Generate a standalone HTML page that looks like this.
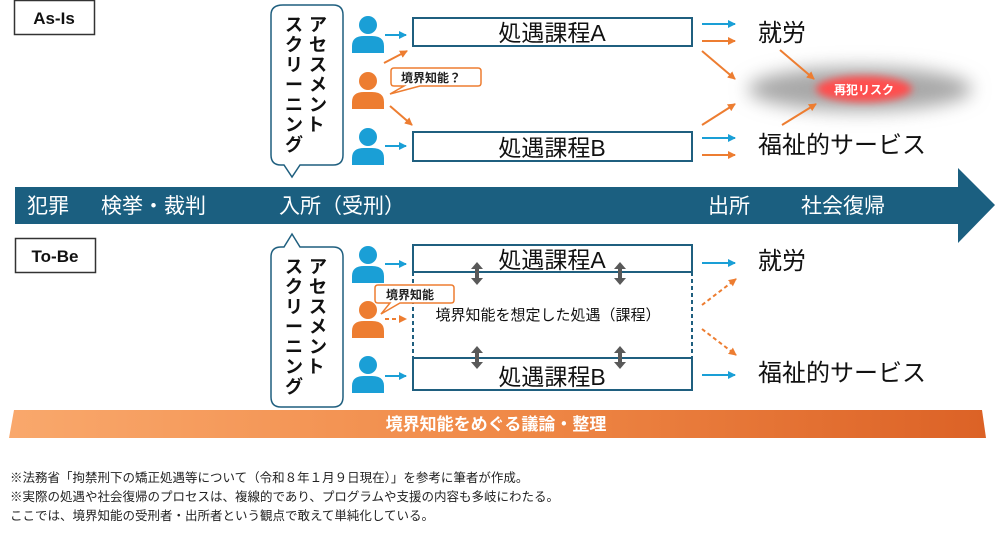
<!DOCTYPE html>
<html><head><meta charset="utf-8"><style>
html,body{margin:0;padding:0;background:#fff;width:1000px;height:533px;overflow:hidden}
svg{display:block}
text{font-family:"Liberation Sans","Noto Sans CJK JP",sans-serif}
</style></head><body>
<svg width="1000" height="533" viewBox="0 0 1000 533" xmlns="http://www.w3.org/2000/svg">
<defs>
<marker id="ab" markerWidth="8" markerHeight="8" refX="7" refY="4" orient="auto" markerUnits="userSpaceOnUse"><path d="M0,0 L8,4 L0,8 z" fill="#1a9fd6"/></marker>
<marker id="ao" markerWidth="8" markerHeight="8" refX="7" refY="4" orient="auto" markerUnits="userSpaceOnUse"><path d="M0,0 L8,4 L0,8 z" fill="#ed7d31"/></marker>
<filter id="blur1" x="-50%" y="-100%" width="200%" height="300%"><feGaussianBlur stdDeviation="9"/></filter>
<filter id="blur2" x="-50%" y="-100%" width="200%" height="300%"><feGaussianBlur stdDeviation="4"/></filter>
<linearGradient id="og" x1="0" x2="1"><stop offset="0" stop-color="#f9a86c"/><stop offset="0.5" stop-color="#f08a48"/><stop offset="1" stop-color="#dc6226"/></linearGradient>
<g id="pb"><circle cx="16" cy="9" r="9" fill="#1a9fd6"/><path d="M0,37 L0,30 Q0,20 12,20 L20,20 Q32,20 32,30 L32,37 z" fill="#1a9fd6"/></g>
<g id="po"><circle cx="16" cy="9" r="9" fill="#ed7d31"/><path d="M0,37 L0,30 Q0,20 12,20 L20,20 Q32,20 32,30 L32,37 z" fill="#ed7d31"/></g>
<g id="dbl" fill="#595959"><path d="M0,0 L6,7 L2,7 L2,16 L6,16 L0,23 L-6,16 L-2,16 L-2,7 L-6,7 z"/></g>
</defs>

<rect x="14.5" y="0.5" width="80" height="34" fill="#fff" stroke="#333" stroke-width="1.5"/>
<text x="54" y="24" font-size="17" font-weight="bold" text-anchor="middle" fill="#111">As-Is</text>

<path d="M283,5 L333,5 Q343,5 343,15 L343,155 Q343,165 333,165 L300,165 L292,177 L284,165 L281,165 Q271,165 271,155 L271,15 Q271,5 283,5 z" fill="#fff" stroke="#1f5f7f" stroke-width="1.5"/>
<text font-size="18" font-weight="bold" fill="#111" text-anchor="middle">
<tspan x="318" y="31">ア</tspan><tspan x="318" y="51">セ</tspan><tspan x="318" y="71">ス</tspan><tspan x="318" y="91">メ</tspan><tspan x="318" y="111">ン</tspan><tspan x="318" y="131">ト</tspan>
<tspan x="294" y="31">ス</tspan><tspan x="294" y="51">ク</tspan><tspan x="294" y="71">リ</tspan><tspan x="294" y="91">ー</tspan><tspan x="294" y="111">ニ</tspan><tspan x="294" y="131">ン</tspan><tspan x="294" y="151">グ</tspan>
</text>

<use href="#pb" x="352" y="16"/>
<use href="#po" x="352" y="72"/>
<use href="#pb" x="352" y="128"/>
<line x1="385" y1="35" x2="406" y2="35" stroke="#1a9fd6" stroke-width="2" marker-end="url(#ab)"/>
<line x1="385" y1="146" x2="406" y2="146" stroke="#1a9fd6" stroke-width="2" marker-end="url(#ab)"/>
<line x1="384" y1="63" x2="407" y2="51" stroke="#ed7d31" stroke-width="2" marker-end="url(#ao)"/>
<line x1="390" y1="106" x2="412" y2="125" stroke="#ed7d31" stroke-width="2" marker-end="url(#ao)"/>
<path d="M394,68 L478,68 Q481,68 481,71 L481,83 Q481,86 478,86 L420,86 L390,94 L404,86 L394,86 Q391,86 391,83 L391,71 Q391,68 394,68 z" fill="#fff" stroke="#ed7d31" stroke-width="1.5"/>
<text x="401" y="82" font-size="12" font-weight="bold" fill="#222">境界知能？</text>

<rect x="413" y="18" width="279" height="28" fill="#fff" stroke="#1f5f7f" stroke-width="2"/>
<text x="552" y="41" font-size="23" text-anchor="middle" fill="#111">処遇課程A</text>
<rect x="413" y="132" width="279" height="29" fill="#fff" stroke="#1f5f7f" stroke-width="2"/>
<text x="552" y="156" font-size="23" text-anchor="middle" fill="#111">処遇課程B</text>

<line x1="702" y1="24" x2="735" y2="24" stroke="#1a9fd6" stroke-width="2" marker-end="url(#ab)"/>
<line x1="702" y1="41" x2="735" y2="41" stroke="#ed7d31" stroke-width="2" marker-end="url(#ao)"/>
<line x1="702" y1="138" x2="735" y2="138" stroke="#1a9fd6" stroke-width="2" marker-end="url(#ab)"/>
<line x1="702" y1="155" x2="735" y2="155" stroke="#ed7d31" stroke-width="2" marker-end="url(#ao)"/>
<line x1="702" y1="51" x2="735" y2="79" stroke="#ed7d31" stroke-width="2" marker-end="url(#ao)"/>
<line x1="702" y1="125" x2="735" y2="104" stroke="#ed7d31" stroke-width="2" marker-end="url(#ao)"/>

<ellipse cx="860" cy="89" rx="112" ry="22" fill="#a8a8a8" filter="url(#blur1)"/>
<ellipse cx="864" cy="89" rx="48" ry="13" fill="#ff4d4d" filter="url(#blur2)"/>
<text x="864" y="94" font-size="12" font-weight="bold" fill="#fff" text-anchor="middle">再犯リスク</text>
<line x1="780" y1="50" x2="814" y2="79" stroke="#ed7d31" stroke-width="2" marker-end="url(#ao)"/>
<line x1="782" y1="125" x2="816" y2="104" stroke="#ed7d31" stroke-width="2" marker-end="url(#ao)"/>

<text x="758" y="41" font-size="24" fill="#111">就労</text>
<text x="758" y="153" font-size="24" fill="#111">福祉的サービス</text>

<path d="M15,187 L958,187 L958,168 L995,205 L958,243 L958,224 L15,224 z" fill="#1b5f80"/>
<text font-size="21" fill="#fff" y="213">
<tspan x="27">犯罪</tspan><tspan x="101">検挙・裁判</tspan><tspan x="279">入所（受刑）</tspan><tspan x="708">出所</tspan><tspan x="801">社会復帰</tspan>
</text>

<rect x="15.5" y="238.5" width="80" height="34" fill="#fff" stroke="#333" stroke-width="1.5"/>
<text x="55" y="262" font-size="17" font-weight="bold" text-anchor="middle" fill="#111">To-Be</text>

<path d="M281,247 L284,247 L292,234 L300,247 L333,247 Q343,247 343,257 L343,397 Q343,407 333,407 L281,407 Q271,407 271,397 L271,257 Q271,247 281,247 z" fill="#fff" stroke="#1f5f7f" stroke-width="1.5"/>
<text font-size="18" font-weight="bold" fill="#111" text-anchor="middle">
<tspan x="318" y="273">ア</tspan><tspan x="318" y="293">セ</tspan><tspan x="318" y="313">ス</tspan><tspan x="318" y="333">メ</tspan><tspan x="318" y="353">ン</tspan><tspan x="318" y="373">ト</tspan>
<tspan x="294" y="273">ス</tspan><tspan x="294" y="293">ク</tspan><tspan x="294" y="313">リ</tspan><tspan x="294" y="333">ー</tspan><tspan x="294" y="353">ニ</tspan><tspan x="294" y="373">ン</tspan><tspan x="294" y="393">グ</tspan>
</text>

<rect x="413" y="245" width="279" height="145" fill="#fff" stroke="none"/>
<line x1="413" y1="272" x2="413" y2="358" stroke="#1f5f7f" stroke-width="2" stroke-dasharray="4,3"/>
<line x1="692" y1="272" x2="692" y2="358" stroke="#1f5f7f" stroke-width="2" stroke-dasharray="4,3"/>
<rect x="413" y="245" width="279" height="27" fill="none" stroke="#1f5f7f" stroke-width="2"/>
<rect x="413" y="358" width="279" height="32" fill="none" stroke="#1f5f7f" stroke-width="2"/>
<text x="552" y="268" font-size="23" text-anchor="middle" fill="#111">処遇課程A</text>
<text x="552" y="385" font-size="23" text-anchor="middle" fill="#111">処遇課程B</text>
<text x="548" y="320" font-size="15" text-anchor="middle" fill="#111">境界知能を想定した処遇（課程）</text>
<use href="#dbl" x="477" y="262"/>
<use href="#dbl" x="620" y="262"/>
<use href="#dbl" x="477" y="346"/>
<use href="#dbl" x="620" y="346"/>

<use href="#pb" x="352" y="246"/>
<use href="#po" x="352" y="301"/>
<use href="#pb" x="352" y="356"/>
<line x1="385" y1="264" x2="406" y2="264" stroke="#1a9fd6" stroke-width="2" marker-end="url(#ab)"/>
<line x1="385" y1="376" x2="406" y2="376" stroke="#1a9fd6" stroke-width="2" marker-end="url(#ab)"/>
<line x1="385" y1="319" x2="406" y2="319" stroke="#ed7d31" stroke-width="2" stroke-dasharray="4,3" marker-end="url(#ao)"/>
<path d="M378,285 L451,285 Q454,285 454,288 L454,300 Q454,303 451,303 L400,303 L381,314 L390,303 L378,303 Q375,303 375,300 L375,288 Q375,285 378,285 z" fill="#fff" stroke="#ed7d31" stroke-width="1.5"/>
<text x="386" y="299" font-size="12" font-weight="bold" fill="#222">境界知能</text>

<line x1="702" y1="263" x2="735" y2="263" stroke="#1a9fd6" stroke-width="2" marker-end="url(#ab)"/>
<line x1="702" y1="375" x2="735" y2="375" stroke="#1a9fd6" stroke-width="2" marker-end="url(#ab)"/>
<line x1="702" y1="305" x2="736" y2="279" stroke="#ed7d31" stroke-width="2" stroke-dasharray="4,3" marker-end="url(#ao)"/>
<line x1="702" y1="329" x2="736" y2="355" stroke="#ed7d31" stroke-width="2" stroke-dasharray="4,3" marker-end="url(#ao)"/>
<text x="758" y="269" font-size="24" fill="#111">就労</text>
<text x="758" y="381" font-size="24" fill="#111">福祉的サービス</text>

<path d="M14,410 L982,410 L986,438 L9,438 z" fill="url(#og)"/>
<text x="496" y="430" font-size="17" font-weight="bold" fill="#fff" text-anchor="middle">境界知能をめぐる議論・整理</text>

<text font-size="12.5" fill="#222">
<tspan x="10" y="482">※法務省「拘禁刑下の矯正処遇等について（令和８年１月９日現在）」を参考に筆者が作成。</tspan>
<tspan x="10" y="501">※実際の処遇や社会復帰のプロセスは、複線的であり、プログラムや支援の内容も多岐にわたる。</tspan>
<tspan x="10" y="520">ここでは、境界知能の受刑者・出所者という観点で敢えて単純化している。</tspan>
</text>
</svg>
</body></html>
